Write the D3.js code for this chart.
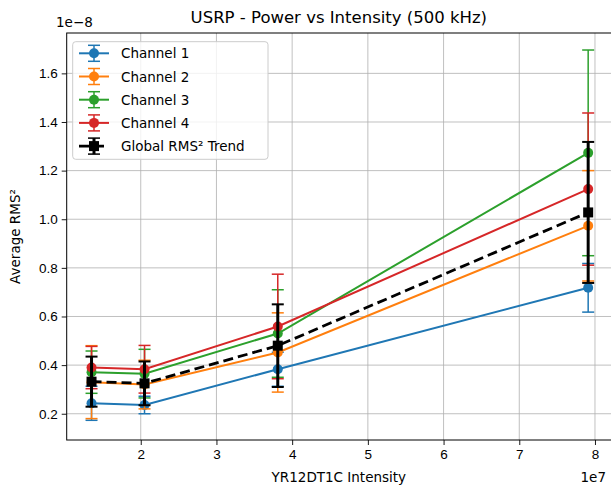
<!DOCTYPE html>
<html>
<head>
<meta charset="utf-8">
<script src="https://cdn.jsdelivr.net/npm/d3@7"></script>
<style>
    body { margin: 0; background: #fff; }
    svg { font-family: "DejaVu Sans", sans-serif; }
    .grid line { stroke: #b0b0b0; stroke-width: 0.8; }
    .tick text { font-size: 13.5px; fill: #000; }
</style>
</head>
<body>
<svg id="chart" width="611" height="486"></svg>
<script>
// intensity (x) and the average RMS² values in units of 1e-8
const intensity = [1.35e7, 2.05e7, 3.81e7, 7.91e7];

const channel1 = [0.243, 0.236, 0.383, 0.718];
const channel1Err = [0.07, 0.036, 0.07, 0.10];
const channel2 = [0.33, 0.32, 0.452, 0.973];
const channel2Err = [0.15, 0.10, 0.163, 0.227];
const channel3 = [0.371, 0.365, 0.53, 1.273];
const channel3Err = [0.087, 0.10, 0.18, 0.423];
const channel4 = [0.39, 0.383, 0.559, 1.124];
const channel4Err = [0.087, 0.098, 0.215, 0.313];
const globalTrend = [0.332, 0.325, 0.48, 1.028];
const globalErr = [0.103, 0.09, 0.17, 0.29];

const xTicks = [2e7, 3e7, 4e7, 5e7, 6e7, 7e7, 8e7];
const yTicks = [0.2, 0.4, 0.6, 0.8, 1.0, 1.2, 1.4, 1.6];

const seriesNames = ["Channel 1", "Channel 2", "Channel 3", "Channel 4", "Global RMS² Trend"];

let series = [
    {name: seriesNames[0], values: channel1, err: channel1Err, color: "#1f77b4"},
    {name: seriesNames[1], values: channel2, err: channel2Err, color: "#ff7f0e"},
    {name: seriesNames[2], values: channel3, err: channel3Err, color: "#2ca02c"},
    {name: seriesNames[3], values: channel4, err: channel4Err, color: "#d62728"},
    {name: seriesNames[4], values: globalTrend, err: globalErr, color: "#000000", global: true}
];

// plot area edges (the right spine sits just past the window)
const plotLeft = 66.7, plotRight = 613, plotTop = 33, plotBottom = 440;

let svg = d3.select("#chart");

let x = d3.scaleLinear().domain([1.022e7, 8.238e7]).range([plotLeft, plotRight]);
let y = d3.scaleLinear().domain([0.092, 1.766]).range([plotBottom, plotTop]);

// gridlines
svg.append("g").attr("class", "grid")
    .selectAll("line").data(xTicks).enter().append("line")
    .attr("x1", d => x(d)).attr("x2", d => x(d))
    .attr("y1", plotTop).attr("y2", plotBottom);
svg.append("g").attr("class", "grid")
    .selectAll("line").data(yTicks).enter().append("line")
    .attr("x1", plotLeft).attr("x2", plotRight)
    .attr("y1", d => y(d)).attr("y2", d => y(d));

// axes
let xAxis = d3.axisBottom(x).tickValues(xTicks).tickSize(5).tickPadding(4)
    .tickFormat(d => d / 1e7);
let yAxis = d3.axisLeft(y).tickValues(yTicks).tickSize(5).tickPadding(4)
    .tickFormat(d3.format(".1f"));

let gx = svg.append("g").attr("transform", "translate(0," + plotBottom + ")").call(xAxis);
let gy = svg.append("g").attr("transform", "translate(" + plotLeft + ",0)").call(yAxis);
gx.select(".domain").remove();
gy.select(".domain").remove();
svg.selectAll(".tick line").attr("stroke", "#000").attr("stroke-width", 0.9);

// frame
svg.append("rect")
    .attr("x", plotLeft).attr("y", plotTop)
    .attr("width", plotRight - plotLeft).attr("height", plotBottom - plotTop)
    .attr("fill", "none").attr("stroke", "#000").attr("stroke-width", 1);

// the series
let line = d3.line().x((d, i) => x(intensity[i])).y(d => y(d));

series.forEach(function(s) {
    let g = svg.append("g");
    let lw = s.global ? 3 : 1.5;
    let cap = 6;

    // error bars
    s.values.forEach(function(v, i) {
        let cx = x(intensity[i]);
        let y0 = y(v - s.err[i]), y1 = y(v + s.err[i]);
        g.append("line").attr("x1", cx).attr("x2", cx).attr("y1", y0).attr("y2", y1)
            .attr("stroke", s.color).attr("stroke-width", lw);
        [y0, y1].forEach(function(yy) {
            g.append("line").attr("x1", cx - cap).attr("x2", cx + cap)
                .attr("y1", yy).attr("y2", yy)
                .attr("stroke", s.color).attr("stroke-width", s.global ? 2 : 1.5);
        });
    });

    g.append("path").datum(s.values)
        .attr("d", line)
        .attr("fill", "none")
        .attr("stroke", s.color)
        .attr("stroke-width", s.global ? 2.8 : 2)
        .attr("stroke-dasharray", s.global ? "10,5" : null);

    if (s.global) {
        g.selectAll("rect.pt").data(s.values).enter().append("rect")
            .attr("x", (d, i) => x(intensity[i]) - 5)
            .attr("y", d => y(d) - 5)
            .attr("width", 10).attr("height", 10)
            .attr("fill", s.color);
    } else {
        g.selectAll("circle").data(s.values).enter().append("circle")
            .attr("cx", (d, i) => x(intensity[i]))
            .attr("cy", d => y(d))
            .attr("r", 5)
            .attr("fill", s.color);
    }
});

// legend
let legend = svg.append("g");
legend.append("rect")
    .attr("x", 72.7).attr("y", 41.7).attr("width", 195.3).attr("height", 117.6)
    .attr("rx", 3).attr("fill", "#fff").attr("fill-opacity", 0.8)
    .attr("stroke", "#cccccc").attr("stroke-width", 1);

series.forEach(function(s, i) {
    let ly = 53.3 + i * 23.2;
    let cx = 94;
    let entry = legend.append("g");
    entry.append("line").attr("x1", 79).attr("x2", 109).attr("y1", ly).attr("y2", ly)
        .attr("stroke", s.color).attr("stroke-width", s.global ? 2.8 : 2)
        .attr("stroke-dasharray", s.global ? "10,5" : null);
    entry.append("line").attr("x1", cx).attr("x2", cx).attr("y1", ly - 8).attr("y2", ly + 8)
        .attr("stroke", s.color).attr("stroke-width", s.global ? 3 : 1.5);
    [ly - 8, ly + 8].forEach(function(yy) {
        entry.append("line").attr("x1", cx - 6).attr("x2", cx + 6).attr("y1", yy).attr("y2", yy)
            .attr("stroke", s.color).attr("stroke-width", 1.5);
    });
    if (s.global) {
        entry.append("rect").attr("x", cx - 5).attr("y", ly - 5).attr("width", 10).attr("height", 10)
            .attr("fill", s.color);
    } else {
        entry.append("circle").attr("cx", cx).attr("cy", ly).attr("r", 5).attr("fill", s.color);
    }
    entry.append("text").attr("x", 121).attr("y", ly + 5)
        .attr("font-size", "13.5px").text(s.name);
});

// titles and labels
svg.append("text").attr("x", (plotLeft + 611) / 2).attr("y", 23)
    .attr("text-anchor", "middle").attr("font-size", "16.5px")
    .text("USRP - Power vs Intensity (500 kHz)");
svg.append("text").attr("x", 56).attr("y", 27)
    .attr("font-size", "13.5px").text("1e\u22128");
svg.append("text").attr("x", (plotLeft + 611) / 2).attr("y", 482)
    .attr("text-anchor", "middle").attr("font-size", "13.5px")
    .text("YR12DT1C Intensity");
svg.append("text").attr("x", 606).attr("y", 482)
    .attr("text-anchor", "end").attr("font-size", "13.5px")
    .text("1e7");
svg.append("text")
    .attr("transform", "translate(20," + (plotTop + plotBottom) / 2 + ") rotate(-90)")
    .attr("text-anchor", "middle").attr("font-size", "13.5px")
    .text("Average RMS²");
</script>
</body>
</html>
